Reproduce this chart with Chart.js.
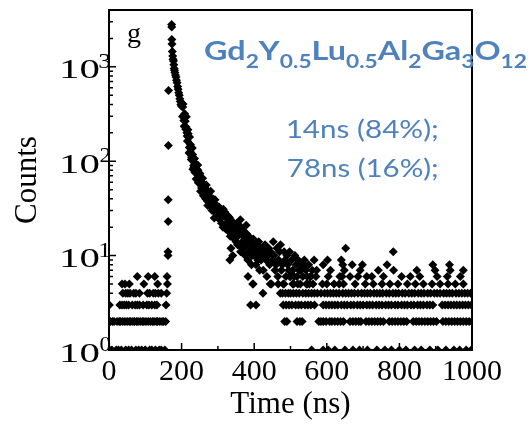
<!DOCTYPE html>
<html><head><meta charset="utf-8">
<script src="https://cdn.jsdelivr.net/npm/chart.js@4"></script>
<style>html,body{margin:0;padding:0;background:#fff;}canvas{display:block;}</style>
</head><body>
<canvas id="c" width="532" height="428"></canvas>
<script>
// ---------- DATA ----------
const xTickValues = [0, 200, 400, 600, 800, 1000];
const xTickLabels = ['0', '200', '400', '600', '800', '1000'];
const xMinorTickValues = [100, 300, 500, 700, 900];
const yDecadeValues = [1, 10, 100, 1000];
const yDecadeBase = '10';
const yDecadeExponents = ['0', '1', '2', '3'];
const yMinorTickValues = [2,3,4,5,6,7,8,9,20,30,40,50,60,70,80,90,200,300,400,500,600,700,800,900,2000,3000];

// flat (background) channels, grouped by their integer count
const levelCounts = [1, 2, 3, 4, 5, 6, 7, 8, 9, 11, 12];
const level1Times = [2,8,20,26,34,46,54,62,74,82,90,100,112,118,128,138,144,154,
  558,590,604,622,650,672,690,712,738,760,778,800,818,842,860,884,906,928,950,966,984,998];
const level2Times = [4,10,14,22,28,32,38,44,50,56,60,66,70,76,80,86,92,96,102,108,114,120,124,130,134,140,146,150,156,
  484,490,518,526,532,578,584,590,598,608,614,622,630,638,646,664,672,680,688,694,708,716,724,732,740,748,756,
  772,780,788,796,804,812,820,838,846,854,862,870,878,886,894,902,920,928,936,944,952,960,968,976,984,992,1000];
const level3Times = [1,30,36,42,48,54,64,72,78,84,94,104,110,118,126,132,157,390,405,
  480,488,496,504,514,522,530,540,548,556,566,590,598,606,614,622,630,640,648,656,666,674,684,692,700,710,718,726,
  736,744,752,762,770,778,788,796,806,814,822,832,840,850,858,866,876,884,892,918,926,934,942,950,958,966,974,982,990,998];
const level4Times = [38,46,52,58,68,74,84,106,112,122,128,136,144,159,424,
  472,478,486,494,500,508,516,524,534,542,550,558,566,574,584,594,602,610,618,626,634,644,652,660,668,676,686,696,
  704,712,720,730,738,746,754,764,772,782,790,798,808,816,826,834,842,852,860,868,878,886,896,904,912,922,930,938,
  946,956,964,972,980,988,996];
const level5Times = [36,44,56,96,134,161,397,444,466,
  482,506,520,544,552,562,588,600,620,634,646,678,706,728,752,774,796,822,844,866,890,912,934,954,976];
const level6Times = [78,108,126,160,498,510,546,556,604,636,642,664,686,710,724,756,806,830,856,904,932,968];
const level7Times = [528,572,610,648,692,742,784,848,898,940,976];
const level8Times = [538,590,644,670,698,766,892,938];
const level9Times = [602,640];
const level11Times = [783];
const level12Times = [652];

// rising edge
const riseTimes  = [162.5, 162.5, 163, 163, 163.5, 164];
const riseCounts = [10, 11, 23, 39, 147, 560];
// peak and fast decay
const peakTimes  = [172.5,172.8,173,173.5,174.5,175.5,176.5,177.5,178.5,179.5,180.5,181.5,183,184.5,186,187.5,189,190.5,192,193.5,195,196.5,198,199.5];
const peakCounts = [2800,2650,1950,1750,1450,1300,1200,1150,1050,960,920,870,820,780,720,680,620,580,530,500,460,430,400,385];
// slow decay
const decayTimes = [201,202.5,204,205.5,207,208.5,210,211.5,213,214.5,216,217.5,219,220.5,222,223.5,225,226.5,228,229.5,
  231,232.5,234,235.5,237,238.5,240,241.5,243,244.5,246,247.5,249,250.5,252,254,256,258,260,262,264,266,268,270,272,274,
  276,278,280,282,284,286,288,290,292,294,296,298,300,
  302.5,305,307.5,310,312.5,315,317.5,320,322.5,325,327.5,330,332.5,333,335,336,337.5,340,341,342.5,345,347.5,350,352.5,
  355,357.5,360,362,362.5,365,367.5,370,372.5,375,377.5,378,380,382.5,383,385,387.5,390,392.5,395,396,397.5,400,402.5,
  405,407.5,410,412.5,415,417.5,
  420,422.5,425,427.5,430,432.5,435,437.5,440,442.5,445,447.5,450,452.5,455,457.5,460,462.5,465,467.5,470,472.5,475,
  477.5,480,482.5,485,487.5,490,492.5,495,497.5,500,503,506,509,512,515,518,521,524,527,530,534,538,542,546,550,555,
  560,565,570];
const decayCounts = [400,298,403,305,234,319,265,218,295,200,164,216,179,122,180,126,144,104,115,138,
  82,104,86,107,76,85,65,90,73,91,59,73,59,74,48,61,54,66,43,56,53,40,56,43,34,46,
  40,34,48,34,30,40,35,25,39,29,34,26,29,
  33,24,30,22,28,31,21,26,19,27,23,18,25,9,20,12,17,23,10,21,15,19,14,22,
  16,13,19,24,11,17,14,12,18,10,15,21,13,9,6,16,11,14,8,12,5,15,10,13,
  8,12,9,14,7,11,
  12,10,7,11,13,9,6,10,12,8,11,5,9,14,10,7,8,12,6,9,11,13,7,
  8,5,11,9,6,10,8,7,11,6,9,7,5,10,8,6,9,7,5,8,6,9,7,5,8,6,
  7,9,6];
const decayExtraTimes = [203.2,206.3,209.3,212.2,215.3,218.2,221.2,224.3,227.2,230.3,233.3,236.2,239.2,242.3,245.2,
  248.3,251.2,255,259,263,267,271,275,279,283,287,291,295,299,
  304,309,314,319,324,329,334,339,344,349,354,359,364,369,374,379,384,389,394,399,404,409,414,419];
const decayExtraCounts = [375,270,300,230,185,195,140,150,110,118,90,96,78,82,80,
  62,68,52,58,46,50,38,42,36,40,31,35,28,33,
  27,25,20,29,21,26,16,22,18,20,13,17,20,16,13,17,11,13,10,12,11,13,10,9];

// annotations
const panelLabel = 'g';
const formulaParts = ['Gd','2','Y','0.5','Lu','0.5','Al','2','Ga','3','O','12']; // main, subscript, main, ...
const lifetimeLabels = ['14ns (84%);', '78ns (16%);'];

// ---------- BUILD POINTS ----------
const levelTimes = [level1Times, level2Times, level3Times, level4Times, level5Times, level6Times,
  level7Times, level8Times, level9Times, level11Times, level12Times];
const points = [];
levelTimes.forEach((arr, i) => arr.forEach(t => points.push({x: t, y: levelCounts[i]})));
riseTimes.forEach((t, i) => points.push({x: t, y: riseCounts[i]}));
peakTimes.forEach((t, i) => points.push({x: t, y: peakCounts[i]}));
decayTimes.forEach((t, i) => points.push({x: t, y: decayCounts[i]}));
decayExtraTimes.forEach((t, i) => points.push({x: t, y: decayExtraCounts[i]}));

const SERIF = "'Liberation Serif', 'Times New Roman', serif";
const SANS = "Lato, 'Open Sans', sans-serif";
const BLUE = 'rgb(79,129,189)';

function drawFit(ctx, text, font, inkLeft, inkRight, baseline) {
  ctx.font = font;
  ctx.textAlign = 'left';
  ctx.textBaseline = 'alphabetic';
  const m = ctx.measureText(text);
  const ink = m.actualBoundingBoxLeft + m.actualBoundingBoxRight;
  const sx = (inkRight - inkLeft) / ink;
  ctx.save();
  ctx.translate(inkLeft, baseline);
  ctx.scale(sx, 1);
  ctx.fillText(text, m.actualBoundingBoxLeft, 0);
  ctx.restore();
}

function drawRuns(ctx, parts, mainFont, subFont, left, right, baseline, subDrop) {
  ctx.textAlign = 'left';
  ctx.textBaseline = 'alphabetic';
  let w = 0;
  parts.forEach((p, i) => { ctx.font = (i % 2) ? subFont : mainFont; w += ctx.measureText(p).width; });
  const sx = (right - left) / w;
  ctx.save();
  ctx.translate(left, baseline);
  ctx.scale(sx, 1);
  let x = 0;
  parts.forEach((p, i) => {
    ctx.font = (i % 2) ? subFont : mainFont;
    ctx.fillText(p, x, (i % 2) ? subDrop : 0);
    x += ctx.measureText(p).width;
  });
  ctx.restore();
}

const framePlugin = {
  id: 'frame',
  afterDraw(chart) {
    const ctx = chart.ctx;
    const a = chart.chartArea;
    const xs = chart.scales.x, ys = chart.scales.y;
    ctx.save();
    ctx.strokeStyle = '#000';
    ctx.lineWidth = 2;
    ctx.strokeRect(a.left, a.top, a.right - a.left, a.bottom - a.top);
    ctx.lineWidth = 1.5;
    ctx.beginPath();
    xTickValues.forEach(v => { const px = xs.getPixelForValue(v); ctx.moveTo(px, a.bottom); ctx.lineTo(px, a.bottom - 7); });
    xMinorTickValues.forEach(v => { const px = xs.getPixelForValue(v); ctx.moveTo(px, a.bottom); ctx.lineTo(px, a.bottom - 4); });
    yDecadeValues.forEach(v => { const py = ys.getPixelForValue(v); ctx.moveTo(a.left, py); ctx.lineTo(a.left + 7, py); });
    yMinorTickValues.forEach(v => { const py = ys.getPixelForValue(v); ctx.moveTo(a.left, py); ctx.lineTo(a.left + 4, py); });
    ctx.stroke();

    // y tick labels 10^n
    ctx.fillStyle = '#000';
    yDecadeValues.forEach((v, i) => {
      const py = ys.getPixelForValue(v);
      drawFit(ctx, yDecadeBase, '28px ' + SERIF, 62, 98.5, py + 11.5);
      drawFit(ctx, yDecadeExponents[i], '21px ' + SERIF, 99.5, 110.5, py + 1);
    });

    // panel label
    ctx.font = '28px ' + SERIF;
    ctx.textAlign = 'left';
    ctx.textBaseline = 'alphabetic';
    ctx.fillText(panelLabel, 127, 42);

    // formula and lifetimes
    ctx.fillStyle = BLUE;
    drawRuns(ctx, formulaParts, 'bold 27px ' + SANS, 'bold 19px ' + SANS, 204, 527, 59.5, 8.5);
    drawFit(ctx, lifetimeLabels[0], '25px ' + SANS, 288, 437, 138);
    drawFit(ctx, lifetimeLabels[1], '25px ' + SANS, 288, 437, 177);
    ctx.restore();
  }
};

new Chart(document.getElementById('c'), {
  type: 'scatter',
  data: { datasets: [{
    data: points,
    pointStyle: 'rectRot',
    pointRadius: 4.5,
    pointHoverRadius: 4.5,
    backgroundColor: '#000',
    borderColor: '#000',
    borderWidth: 0,
    clip: 0
  }]},
  options: {
    responsive: false,
    animation: false,
    devicePixelRatio: 1,
    layout: { padding: { left: 0, right: 60, top: 10, bottom: 0 } },
    plugins: { legend: { display: false }, tooltip: { enabled: false } },
    scales: {
      x: {
        type: 'linear', min: 0, max: 1000,
        ticks: { stepSize: 200, color: '#000', font: { family: SERIF, size: 30 }, padding: 4, maxRotation: 0, autoSkip: false,
          callback: (v) => { const i = xTickValues.indexOf(v); return i >= 0 ? xTickLabels[i] : ''; } },
        grid: { display: false, drawTicks: false },
        border: { display: false },
        title: { display: true, text: 'Time (ns)', color: '#000', font: { family: SERIF, size: 31 }, padding: 5 },
        afterFit(s) { s.height = 78; }
      },
      y: {
        type: 'logarithmic', min: 1, max: 4000,
        ticks: { display: false },
        grid: { display: false, drawTicks: false },
        border: { display: false },
        title: { display: true, text: 'Counts', color: '#000', font: { family: SERIF, size: 31 }, padding: 9 },
        afterFit(s) { s.width = 109; }
      }
    }
  },
  plugins: [framePlugin]
});
</script></body></html>
